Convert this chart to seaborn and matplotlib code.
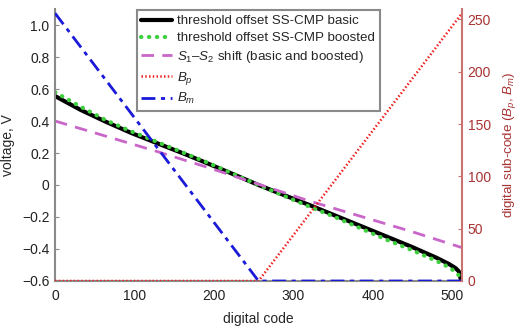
import matplotlib
matplotlib.use("Agg")
import matplotlib.pyplot as plt
import seaborn as sns
import pandas as pd

# ---- data ----
codes = [0, 32, 64, 96, 128, 160, 192, 224, 256, 288, 320, 352, 384, 416, 448, 480, 496, 504, 508, 511]
basic = [0.556, 0.47, 0.395, 0.325, 0.262, 0.2, 0.135, 0.068, 0.0, -0.063, -0.125, -0.19, -0.255,
         -0.32, -0.385, -0.455, -0.495, -0.52, -0.54, -0.6]
boosted = [0.58, 0.49, 0.405, 0.335, 0.27, 0.205, 0.14, 0.07, 0.0, -0.068, -0.135, -0.2, -0.27,
           -0.34, -0.405, -0.475, -0.515, -0.545, -0.565, -0.58]
shift_codes = [0, 64, 128, 192, 256, 320, 384, 448, 511]
shift = [0.40, 0.305, 0.21, 0.11, 0.005, -0.10, -0.195, -0.29, -0.39]
sub_codes = [0, 256, 511]
b_p = [0, 0, 255]
b_m = [256, 0, 0]

labels = ["threshold offset SS-CMP basic",
          "threshold offset SS-CMP boosted",
          r"$S_1$–$S_2$ shift (basic and boosted)",
          r"$B_p$", r"$B_m$"]
xticks = [0, 100, 200, 300, 400, 500]
yticks = [-0.6, -0.4, -0.2, 0, 0.2, 0.4, 0.6, 0.8, 1.0]
ytick_labels = ["\u22120.6", "\u22120.4", "\u22120.2", "0", "0.2", "0.4", "0.6", "0.8", "1.0"]
rticks = [0, 50, 100, 150, 200, 250]

sns.set_style("white")
plt.rcParams["font.family"] = ["Liberation Sans", "DejaVu Sans"]
plt.rcParams["mathtext.fontset"] = "custom"
plt.rcParams["mathtext.rm"] = "Liberation Sans"
plt.rcParams["mathtext.it"] = "Liberation Sans:italic"

df_v = pd.DataFrame({"code": codes, "basic": basic, "boosted": boosted})
df_s = pd.DataFrame({"code": shift_codes, "shift": shift})
df_b = pd.DataFrame({"code": sub_codes, "bp": b_p, "bm": b_m})

fig = plt.figure(figsize=(5.2, 3.3), dpi=100)
ax = fig.add_axes([0.1058, 0.1485, 0.7827, 0.8242])
ax2 = ax.twinx()

sns.lineplot(data=df_v, x="code", y="basic", ax=ax, color="black", lw=3.0, legend=False)
sns.lineplot(data=df_v, x="code", y="boosted", ax=ax, color="#3fcf3f", lw=3.0,
             linestyle=(0, (0.1, 1.8)), dash_capstyle="round", legend=False)
sns.lineplot(data=df_s, x="code", y="shift", ax=ax, color="#c966c9", lw=2.0,
             linestyle=(0, (4.5, 3.0)), legend=False)
sns.lineplot(data=df_b, x="code", y="bp", ax=ax2, color="#f02020", lw=1.8,
             linestyle=(0, (0.6, 0.9)), legend=False)
sns.lineplot(data=df_b, x="code", y="bm", ax=ax2, color="#1a1ad8", lw=2.0,
             linestyle=(0, (5, 2, 1.5, 2)), legend=False)

ax.set_xlim(0, 512)
ax.set_ylim(-0.6, 1.1)
ax2.set_ylim(0, 260)
ax.set_xticks(xticks)
ax.set_yticks(yticks)
ax.set_yticklabels(ytick_labels)
ax2.set_yticks(rticks)

ax.set_xlabel("digital code", fontsize=10, labelpad=6)
ax.set_ylabel("voltage, V", fontsize=10, labelpad=5)
ax2.set_ylabel(r"digital sub-code ($B_p$, $B_m$)", fontsize=9.6, color="#a83232", labelpad=7)

for a in (ax, ax2):
    a.spines["top"].set_visible(False)
ax.spines["right"].set_visible(False)
ax2.spines["left"].set_visible(False)
ax2.spines["bottom"].set_visible(False)
for s in ("left", "bottom"):
    ax.spines[s].set_color("#8a8a8a")
    ax.spines[s].set_linewidth(1.5)
ax2.spines["right"].set_color("#c87272")
ax2.spines["right"].set_linewidth(1.5)

ax.tick_params(axis="both", direction="in", length=3, width=0.8, labelsize=10,
               colors="#8a8a8a", labelcolor="#222222", pad=4)
ax.tick_params(axis="x", length=0, pad=6)
ax2.tick_params(axis="y", direction="in", length=3, width=0.8, labelsize=10,
                colors="#c87272", labelcolor="#a83232", pad=4)

handles = ax.get_lines()[:3] + ax2.get_lines()[:2]
leg = ax2.legend(handles, labels, loc="upper left", bbox_to_anchor=(0.197, 1.0),
                 fontsize=9.6, frameon=True, fancybox=False, framealpha=1,
                 edgecolor="#8a8a8a", handlelength=2.3, handletextpad=0.4,
                 labelspacing=0.35, borderpad=0.35, borderaxespad=0.1)
leg.get_frame().set_linewidth(1.5)

fig.savefig("out.png", dpi=100)
